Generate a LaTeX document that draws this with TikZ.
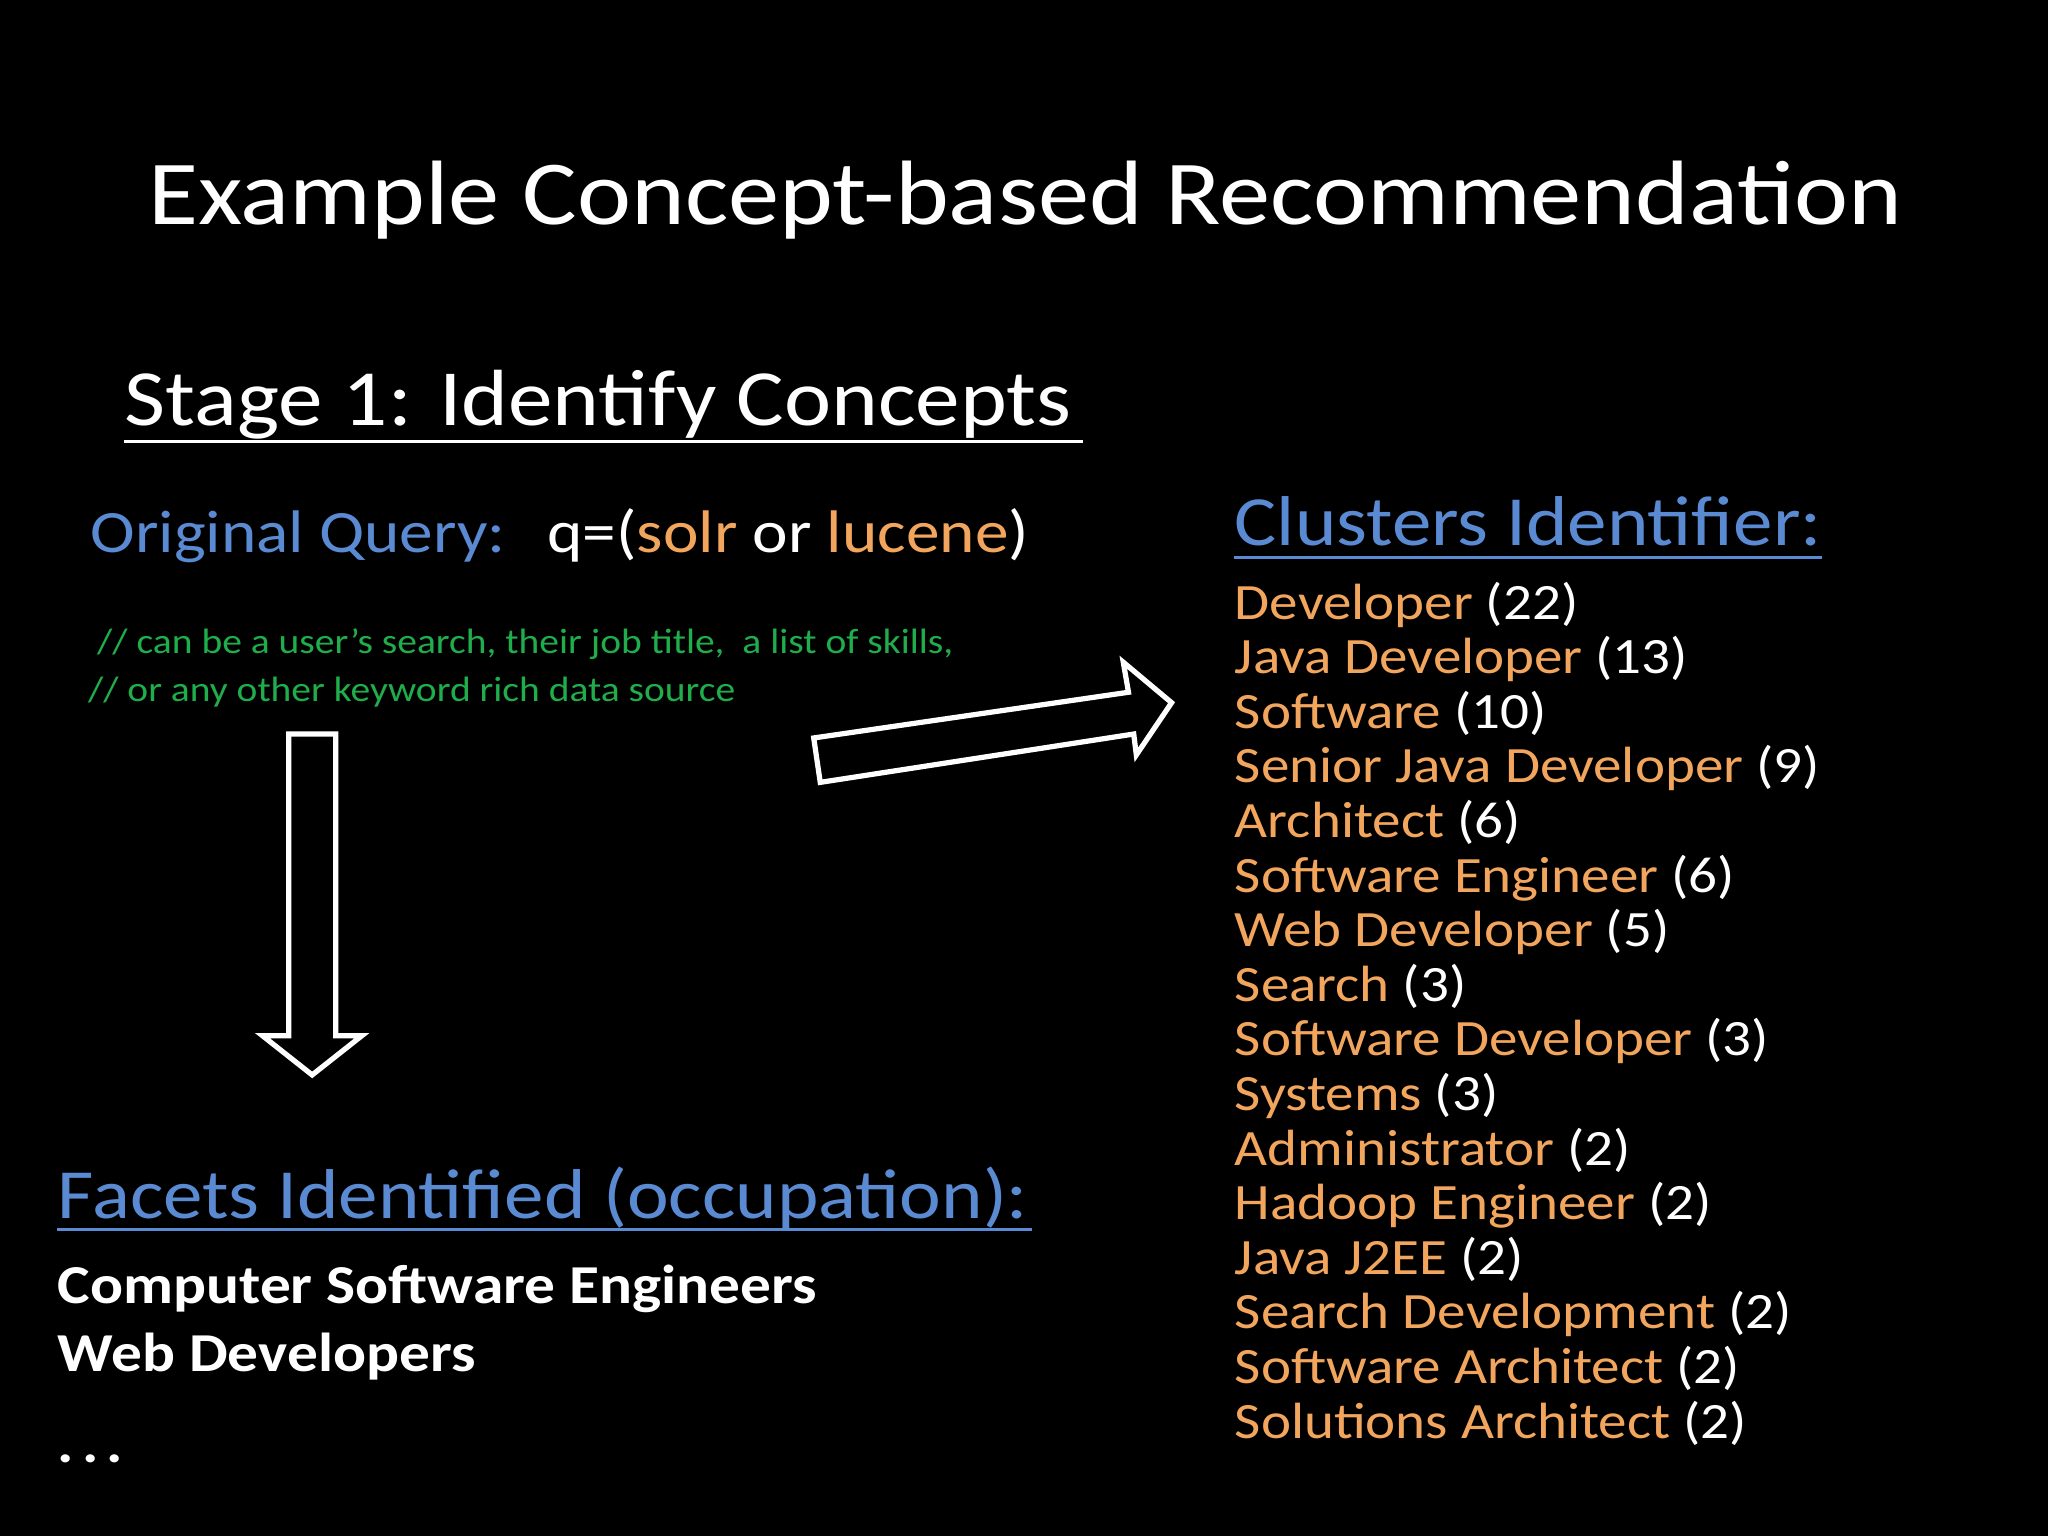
\documentclass[tikz,border=0pt]{standalone}
\usepackage{fontspec}
\setmainfont[FakeStretch=1.12]{Carlito}
\begin{document}
\begin{tikzpicture}[x=0.5pt,y=-0.5pt,
  txt/.style={anchor=base west,inner sep=0pt,text=white},
  item/.style={txt,font=\fontsize{19.5}{20}\selectfont},
  arr/.style={draw=white,line width=2pt,line join=miter}]
\definecolor{bl}{HTML}{5A8AD2}
\definecolor{org}{HTML}{F2A55C}
\definecolor{grn}{HTML}{1FAE4B}
\fill[black] (0,0) rectangle (1568,1176);
\useasboundingbox (0,0) rectangle (1568,1176);
\node[txt,font=\fontsize{35}{36}\selectfont] (title) at (113,172) {Example Concept-based Recommendation};
\node[txt,font=\fontsize{30.5}{31}\selectfont] (stage) at (95,326) {Stage 1: Identify Concepts};
\draw[white,line width=1.2pt] (95,338) -- (829,338);
\node[txt,font=\fontsize{23}{24}\selectfont] (query) at (69,423) {\textcolor{bl}{Original Query:}\hspace{16pt}q=(\textcolor{org}{solr} or \textcolor{org}{lucene})};
\node[txt,text=grn,font=\fontsize{13.5}{14}\selectfont] (c1) at (74,500) {// can be a user’s search, their job title,\ \ a list of skills,};
\node[txt,text=grn,font=\fontsize{13.5}{14}\selectfont] (c2) at (67,537) {// or any other keyword rich data source};
\draw[arr] (221,562) -- (257,562) -- (257,793) -- (277,793) -- (239,823) -- (201,793) -- (221,793) -- cycle;
\draw[arr] (628,599) -- (623,565) -- (864,530) -- (860,507) -- (897,538) -- (870,578) -- (868,562) -- cycle;
\node[txt,text=bl,font=\fontsize{27}{28}\selectfont] (clu) at (945,418) {Clusters Identifier:};
\draw[bl,line width=1.2pt] (945,427) -- (1395,427);
\foreach [count=\i] \a/\b in {Developer/22,Java Developer/13,Software/10,Senior Java Developer/9,Architect/6,Software Engineer/6,Web Developer/5,Search/3,Software Developer/3,Systems/3,Administrator/2,Hadoop Engineer/2,Java J2EE/2,Search Development/2,Software Architect/2,Solutions Architect/2}
  \node[item] (it\i) at (945,{474+(\i-1)*41.8}) {\textcolor{org}{\a} (\b)};
\node[txt,text=bl,font=\fontsize{27}{28}\selectfont] (fac) at (44,933) {Facets Identified (occupation):};
\draw[bl,line width=1.2pt] (44,941) -- (790,941);
\node[txt,font=\bfseries\fontsize{21}{22}\selectfont] (f1) at (44,998) {Computer Software Engineers};
\node[txt,font=\bfseries\fontsize{21}{22}\selectfont] (f2) at (44,1050) {Web Developers};
\node[txt,font=\bfseries\fontsize{21}{22}\selectfont] (f3) at (44,1120) {.\hspace{3pt}.\hspace{3pt}.};
\end{tikzpicture}
\end{document}
